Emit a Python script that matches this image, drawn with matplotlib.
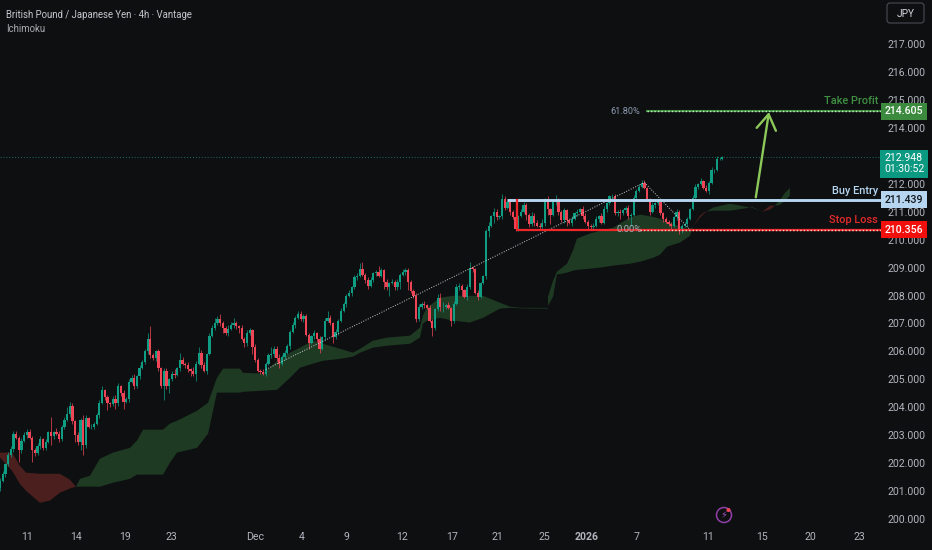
import matplotlib
matplotlib.use("Agg")
import matplotlib.pyplot as plt
from matplotlib.patches import Circle, FancyBboxPatch

plt.rcParams["font.family"] = ["Roboto", "DejaVu Sans"]

BG = "#0e0f11"
UP = "#0f9d84"
DOWN = "#ee4657"
TICK = "#b2b5be"

# candle closes, one row is ten 4h bars
closes = [
    201.35, 201.6, 201.95, 202.3, 202.5, 203.05, 202.9, 202.45, 202.8, 203.0,
    203.1, 202.9, 202.45, 202.35, 202.6, 202.85, 202.55, 202.75, 203.1, 202.95,
    203.1, 203.05, 202.85, 203.3, 203.55, 203.75, 204.05, 203.5, 203.0, 202.75,
    203.55, 202.65, 203.6, 203.3, 203.3, 203.4, 203.7, 204.15, 204.6, 204.35,
    204.15, 204.1, 204.3, 204.15, 204.75, 204.5, 204.2, 204.3, 204.9, 205.05,
    204.75, 205.1, 205.4, 205.6, 206.0, 206.45, 205.85, 205.75, 206.0, 205.4,
    204.75, 205.3, 204.75, 205.0, 205.2, 205.15, 205.4, 205.7, 205.55, 205.5,
    205.35, 205.3, 205.2, 205.55, 205.95, 205.5, 205.3, 205.9, 206.55, 206.85,
    207.0, 207.15, 207.0, 206.85, 206.65, 206.8, 206.95, 207.0, 206.9, 206.85,
    206.45, 206.3, 206.65, 206.75, 206.15, 205.7, 205.3, 205.25, 205.2, 205.55,
    205.85, 205.9, 206.1, 205.75, 205.55, 205.8, 205.95, 206.2, 206.7, 206.95,
    207.2, 207.35, 207.15, 207.25, 206.6, 206.3, 206.55, 206.65, 206.45, 206.1,
    206.5, 207.1, 207.2, 207.0, 206.5, 206.7, 207.1, 207.45, 207.7, 208.0,
    208.1, 208.3, 208.65, 208.7, 208.95, 208.75, 208.55, 208.35, 208.55, 208.8,
    208.85, 208.7, 208.9, 208.5, 208.3, 208.45, 208.5, 208.3, 208.5, 208.75,
    208.85, 208.9, 208.5, 208.15, 208.0, 207.15, 207.6, 207.7, 207.65, 207.55,
    207.1, 206.85, 207.5, 207.9, 207.6, 207.6, 207.65, 207.55, 207.1, 207.7,
    208.3, 208.35, 208.2, 207.95, 208.3, 209.0, 208.95, 208.1, 207.95, 208.45,
    208.7, 210.3, 210.5, 210.85, 211.0, 210.8, 210.85, 211.45, 211.15, 211.35,
    211.0, 210.8, 210.4, 210.85, 211.0, 211.25, 210.9, 210.55, 210.85, 210.6,
    210.5, 210.45, 210.6, 211.45, 211.1, 210.9, 211.35, 211.4, 211.0, 210.7,
    211.05, 210.7, 210.6, 210.75, 210.95, 211.0, 211.1, 210.85, 210.65, 210.5,
    210.45, 210.5, 210.75, 210.85, 210.6, 211.1, 211.3, 211.55, 211.55, 210.95,
    211.0, 210.95, 211.05, 211.15, 210.85, 210.9, 211.5, 211.75, 211.9, 212.05,
    211.85, 211.45, 211.0, 211.25, 211.3, 211.35, 210.95, 210.75, 210.65, 210.55,
    210.5, 210.8, 211.0, 210.35, 210.5, 210.55, 210.75, 211.1, 211.5, 211.9,
    212.0, 212.1, 211.85, 211.75, 212.05, 212.5, 212.5, 212.9, 212.9, 212.95,
]

# wick length above the body
upper_wick = [
    .1, .1, .05, .1, .1, .1, .1, .05, .1, .1,
    .1, .1, .05, .1, .1, .1, .05, .1, .05, .55,
    .05, .15, .1, .05, .1, .25, .15, .1, .05, .1,
    .05, .15, .1, .05, .1, .05, .1, .1, .15, .05,
    .1, .05, .1, .15, .1, .05, .1, .05, .1, .1,
    .15, .05, .1, .1, .1, .2, .45, .1, .05, .1,
    .05, .1, .1, .05, .1, .15, .05, .25, .1, .05,
    .1, .05, .15, .1, .2, .1, .1, .05, .1, .1,
    .2, .1, .2, .1, .05, .15, .1, .2, .1, .05,
    .1, .05, .1, .1, .05, .1, .05, .05, .1, .05,
    .1, .25, .1, .1, .15, .05, .1, .05, .05, .1,
    .05, .1, .1, .1, .1, .05, .05, .1, .05, .1,
    .05, .1, .25, .1, .05, .1, .05, .1, .05, .05,
    .1, .05, .1, .1, .2, .25, .05, .1, .1, .05,
    .05, .2, .1, .05, .1, .05, .1, .05, .1, .05,
    .1, .1, .1, .05, .1, .1, .1, .05, .1, .05,
    .1, .05, .05, .15, .2, .15, .05, .1, .05, .1,
    .1, .1, .05, .05, .1, .2, .05, .05, .1, .05,
    .05, .1, .15, .05, .15, .1, .05, .2, .1, .05,
    .1, .05, .1, .05, .1, .1, .05, .05, .15, .1,
    .1, .1, .15, .05, .1, .05, .1, .2, .1, .05,
    .1, .05, .05, .1, .05, .1, .05, .1, .1, .05,
    .05, .1, .1, .05, .1, .1, .05, .05, .1, .1,
    .05, .1, .05, .05, .1, .05, .1, .05, .1, .1,
    .1, .05, .05, .1, .05, .1, .05, .05, .05, .05,
    .1, .05, .1, .05, .05, .1, .05, .05, .1, .1,
    .05, .1, .05, .1, .05, .1, .05, .1, .05, .05,
]

# wick length below the body
lower_wick = [
    .1, .05, .1, .05, .1, .1, .05, .4, .1, .05,
    .1, .05, .4, .1, .05, .1, .1, .1, .05, .3,
    .1, .05, .1, .05, .1, .05, .1, .1, .25, .1,
    .3, .35, .1, .05, .1, .1, .05, .1, .05, .1,
    .25, .1, .05, .2, .1, .1, .25, .05, .1, .05,
    .1, .05, .1, .05, .05, .1, .1, .05, .1, .1,
    .05, .5, .1, .25, .05, .1, .05, .1, .05, .1,
    .1, .2, .1, .25, .05, .1, .05, .1, .05, .05,
    .1, .05, .1, .2, .05, .1, .05, .1, .1, .2,
    .05, .15, .1, .05, .25, .1, .05, .05, .05, .1,
    .05, .1, .1, .1, .15, .05, .1, .05, .1, .05,
    .1, .05, .05, .1, .05, .2, .05, .1, .1, .15,
    .05, .1, .05, .05, .2, .05, .1, .05, .05, .1,
    .05, .1, .05, .1, .05, .05, .1, .1, .05, .05,
    .1, .05, .05, .25, .1, .3, .05, .1, .1, .25,
    .05, .1, .3, .05, .1, .1, .05, .1, .1, .05,
    .05, .3, .1, .05, .15, .2, .1, .05, .2, .1,
    .05, .1, .2, .05, .1, .05, .1, .05, .1, .05,
    .05, .1, .2, .05, .25, .1, .05, .1, .1, .05,
    .1, .05, .1, .1, .05, .05, .2, .1, .05, .1,
    .05, .1, .05, .1, .2, .35, .05, .1, .1, .05,
    .1, .2, .05, .1, .05, .1, .05, .1, .05, .1,
    .1, .05, .05, .1, .05, .05, .1, .05, .1, .05,
    .1, .2, .05, .1, .1, .35, .05, .1, .05, .05,
    .05, .05, .1, .05, .1, .05, .05, .1, .05, .05,
    .1, .05, .1, .15, .1, .05, .1, .05, .05, .05,
    .1, .05, .05, .05, .1, .05, .1, .05, .05, .05,
]

# Ichimoku cloud, read every few bars, senkou A above B means bullish
cloud_bars = [
    0, 4.5, 7.4, 9.7, 14.9, 18.6, 22.3, 26, 28.3,
    29.8, 33.5, 37.2, 42.1, 48.4, 51, 53.3, 60.7, 63.3, 65.9, 73.4, 77.5, 80.8, 83.1,
    89.4, 90.5, 98, 103.2, 108, 111.7, 116.6, 120.3, 126.6, 131.5, 134.1, 138.9, 144.1,
    152.7, 156.4, 157.5, 159, 163.9, 168.7, 175, 179.9, 186.2, 190, 193.7, 201.1,
    204.1, 204.1, 206, 207.4, 211.2, 213.4, 214.9, 219.7, 223.5, 228.3, 234.6, 238.4,
    243.2, 245.8, 248.4, 253.3, 257, 258.1, 260.7, 262.6, 265.5, 271.9, 279.3,
    280.1, 283.8, 286.8, 288.6, 290.5, 292.4, 294.2,
]
senkou_a = [
    202.19, 201.72, 201.25, 201.0, 200.57, 200.65, 200.93, 201.08, 201.15,
    201.43, 201.54, 202.15, 202.37, 202.54, 202.8, 203.19, 203.19, 203.41, 203.51, 203.87, 204.16, 205.05, 205.38,
    205.38, 205.23, 205.2, 205.66, 205.95, 206.13, 206.38, 206.27, 206.09, 205.95, 206.09, 206.38, 206.49,
    206.56, 206.85, 207.28, 207.56, 207.92, 207.99, 207.99, 207.99, 207.74, 207.6, 207.56, 207.56,
    207.56, 207.96, 208.53, 208.85, 209.14, 209.61, 210.04, 210.22, 210.32, 210.43, 210.79, 210.9,
    210.82, 210.75, 210.65, 210.47, 210.36, 210.47, 210.79, 210.97, 211.15, 211.29, 211.15,
    211.18, 211.0, 211.08, 211.22, 211.43, 211.68, 211.86,
]
senkou_b = [
    202.37, 202.37, 201.9, 201.65, 201.61, 201.61, 201.61, 201.4, 201.15,
    201.15, 201.15, 201.15, 201.29, 201.43, 201.58, 201.58, 201.58, 202.01, 202.37, 202.54, 203.05, 204.52, 204.52,
    204.52, 204.55, 204.59, 204.62, 205.05, 205.41, 205.56, 205.66, 205.73, 205.81, 205.95, 206.13, 206.2,
    206.27, 206.49, 206.99, 207.1, 207.2, 207.1, 207.03, 207.2, 207.53, 207.56, 207.54, 207.53,
    207.53, 207.63, 207.96, 208.75, 208.82, 208.89, 208.92, 208.96, 209.0, 209.07, 209.14, 209.21,
    209.35, 209.46, 209.75, 209.9, 210.14, 210.47, 210.86, 211.0, 211.04, 211.04, 211.15,
    211.15, 211.0, 211.22, 211.22, 211.25, 211.4, 211.58,
]

# 213 sits behind the last price tag in the reference
price_ticks = [200, 201, 202, 203, 204, 205, 206, 207, 208, 209, 210, 211, 212, 214, 215, 216, 217]
date_labels = ["11", "14", "19", "23", "Dec", "4", "9", "12", "17", "21", "25", "2026", "7", "11", "15", "20", "23"]
date_bars = [10, 28.3, 46.5, 63.7, 95, 112.5, 129.2, 149.7, 168.3, 185.1, 202.6, 218.6, 236.9, 263.7, 283.8, 301.7, 319.9]

last_price = 212.948
take_profit = 214.605
buy_entry = 211.439
stop_loss = 210.356

bars = list(range(len(closes)))
opens = [201.1] + closes[:-1]
body_low = [min(o, c) for o, c in zip(opens, closes)]
body_high = [max(o, c) for o, c in zip(opens, closes)]
lows = [b - w for b, w in zip(body_low, lower_wick)]
highs = [b + w for b, w in zip(body_high, upper_wick)]
colors = [UP if c >= o else DOWN for o, c in zip(opens, closes)]

fig = plt.figure(figsize=(9.32, 5.5), dpi=100, facecolor=BG)
ax = fig.add_axes([0, 25 / 550, 882 / 932, 525 / 550], facecolor=BG)
ax.set_xlim(0, 328.5)
ax.set_ylim(199.775, 218.591)

# cloud
ax.fill_between(cloud_bars, senkou_a, senkou_b, where=[a >= b for a, b in zip(senkou_a, senkou_b)],
                color="#1e3a23", lw=0, zorder=1, interpolate=True)
ax.fill_between(cloud_bars, senkou_a, senkou_b, where=[a <= b for a, b in zip(senkou_a, senkou_b)],
                color="#4a1f1d", lw=0, zorder=1, interpolate=True)

# current price line
ax.axhline(last_price, color="#1f6d5f", lw=0.7, ls=(0, (1, 2)), zorder=1.5)

# candles
ax.vlines(bars, lows, highs, colors=colors, lw=0.6, alpha=0.85, zorder=2)
ax.bar(bars, [h - l for h, l in zip(body_high, body_low)], bottom=body_low, width=0.85,
       color=colors, lw=0, zorder=2.2)

# fib trend lines
ax.plot([99, 240], [205.35, 212.05], color="#c9ccd0", lw=0.7, ls=(0, (1, 1.6)), zorder=3)
ax.plot([240, 257], [212.05, 210.36], color="#c9ccd0", lw=0.7, ls=(0, (1, 1.6)), zorder=3)

# trade box
ax.plot([189, 328.5], [buy_entry, buy_entry], color="#b5d5f0", lw=2.1, zorder=4, solid_capstyle="butt")
ax.plot([192.5, 192.5, 238.5], [buy_entry, stop_loss, stop_loss], color="#f0262a", lw=1.6, zorder=4)
ax.plot([238.5, 328.5], [stop_loss, stop_loss], color="#f0262a", lw=1.6, zorder=4)
ax.plot([238.5, 328.5], [stop_loss, stop_loss], color="#f4d0c8", lw=1.0, ls=(0, (1, 1.5)), zorder=4.1)
ax.plot([241, 328.5], [take_profit, take_profit], color="#3c8f3e", lw=1.5, zorder=4)
ax.plot([241, 328.5], [take_profit, take_profit], color="#cfe8c8", lw=1.0, ls=(0, (1, 1.5)), zorder=4.1)

# target arrow
ax.annotate("", xy=(286.4, take_profit - 0.03), xytext=(281.5, 211.52),
            arrowprops=dict(arrowstyle="->,head_length=1.1,head_width=0.7", color="#8cc85a", lw=1.7,
                            shrinkA=0, shrinkB=0), zorder=5)

# labels on the drawing
ax.text(238.5, take_profit, "61.80%", color="#8d9bb0", fontsize=6.6, ha="right", va="center", zorder=6)
ax.text(239, stop_loss, "0.00%", color="#aab0b8", fontsize=6.8, ha="right", va="center", zorder=6)
ax.text(327, 214.98, "Take Profit", color="#3f8f42", fontsize=7.9, fontweight="medium", ha="right", va="center", zorder=6)
ax.text(327, 211.76, "Buy Entry", color="#b5d5f0", fontsize=7.9, fontweight="medium", ha="right", va="center", zorder=6)
ax.text(327, 210.7, "Stop Loss", color="#e32a2a", fontsize=7.9, fontweight="medium", ha="right", va="center", zorder=6)

# axes
for spine in ax.spines.values():
    spine.set_visible(False)
ax.yaxis.tick_right()
ax.set_yticks(price_ticks)
ax.set_yticklabels([f"{p}.000" for p in price_ticks])
ax.tick_params(axis="y", length=0, pad=4, labelsize=7.6, labelcolor=TICK)
ax.set_xticks(date_bars)
ax.set_xticklabels(date_labels)
ax.tick_params(axis="x", length=0, pad=5, labelsize=7.6, labelcolor=TICK)
ax.get_xticklabels()[11].set_fontweight("bold")

# price tags
tag_x = 1 + 22 / 882
tags = [
    (take_profit, "214.605", "#3b8a3d", "white"),
    (buy_entry, "211.439", "#b5d5f0", "#101418"),
    (stop_loss, "210.356", "#f2100d", "white"),
]
for price, label, face, ink in tags:
    ax.text(tag_x, price, label, transform=ax.get_yaxis_transform(), ha="center", va="center", color=ink,
            fontsize=7.6, fontweight="medium", clip_on=False, zorder=8,
            bbox=dict(boxstyle="square,pad=0.32", fc=face, ec="none"))
ax.text(tag_x, last_price - 0.22, "212.948\n01:30:52", transform=ax.get_yaxis_transform(), ha="center", va="center",
        color="white", fontsize=7.6, linespacing=1.15, clip_on=False, zorder=8,
        bbox=dict(boxstyle="square,pad=0.32", fc="#0b9981", ec="none"))

# header
fig.text(6 / 932, 1 - 15 / 550, "British Pound / Japanese Yen · 4h · Vantage", color="#c4c7ce", fontsize=6.9, va="center")
fig.text(6 / 932, 1 - 29 / 550, "Ichimoku", color="#a8abb2", fontsize=6.9, va="center")

# JPY button
fig.patches.append(FancyBboxPatch((887, 527), 37, 20, boxstyle="round,pad=0,rounding_size=3",
                                  fc=BG, ec="#4a4c52", lw=0.8, transform=None))
fig.text(905.5 / 932, 1 - 14 / 550, "JPY", color="#d1d4dc", fontsize=7.3, ha="center", va="center")

# lightning badge
fig.patches.append(Circle((724, 35), 7.5, fc="none", ec="#8e3fa8", lw=1.1, transform=None))
fig.text(724 / 932, 1 - 515 / 550, "⚡", color="#a04fc0", fontsize=7, ha="center", va="center", family=["DejaVu Sans"])
fig.patches.append(Circle((728.5, 40), 2, fc="#ee4657", ec="none", transform=None))

fig.savefig("out.png", dpi=100, facecolor=BG)
